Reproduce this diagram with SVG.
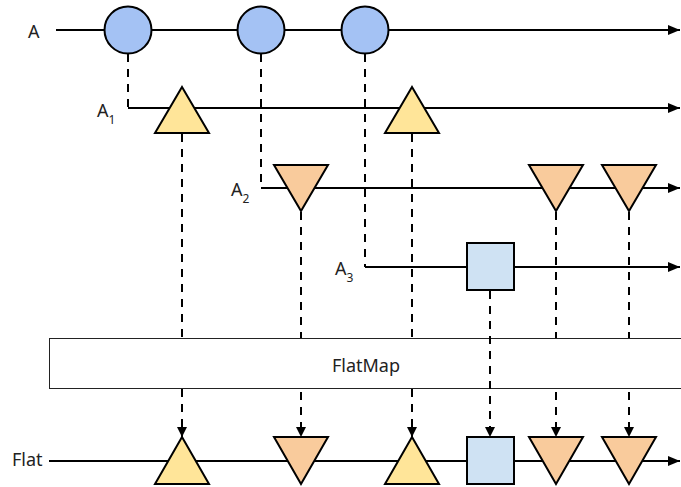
<svg xmlns="http://www.w3.org/2000/svg" width="681" height="487" viewBox="0 0 681 487">
<style>
.ln{fill:none;stroke:#000;stroke-width:2}
.ds{fill:none;stroke:#000;stroke-width:2;stroke-dasharray:8 7}
.sh{stroke:#000;stroke-width:2;stroke-linejoin:miter}
.c{fill:#a4c2f4}
.up{fill:#ffe599}
.dn{fill:#f9cb9c}
.sq{fill:#cfe2f3}
text{font-family:"Noto Sans","Open Sans",sans-serif;font-size:18px;fill:#222}
.sub{font-size:12px}
</style>
<defs>
<marker id="ah" markerUnits="userSpaceOnUse" markerWidth="12" markerHeight="10" refX="12" refY="5" orient="auto">
<path d="M0,0 L12,5 L0,10 z" fill="#000"/>
</marker>
<marker id="dh" markerUnits="userSpaceOnUse" markerWidth="10" markerHeight="10" refX="10" refY="5" orient="auto">
<path d="M0,0 L10,5 L0,10 z" fill="#000"/>
</marker>
</defs>

<g id="connectors">
<!-- timelines -->
<line class="ln" x1="56" y1="30" x2="680" y2="30" marker-end="url(#ah)"/>
<line class="ln" x1="128" y1="108" x2="680" y2="108" marker-end="url(#ah)"/>
<line class="ln" x1="261" y1="188" x2="680" y2="188" marker-end="url(#ah)"/>
<line class="ln" x1="365" y1="267" x2="680" y2="267" marker-end="url(#ah)"/>
<line class="ln" x1="49" y1="461" x2="680" y2="461" marker-end="url(#ah)"/>
<!-- A to sub-streams -->
<line class="ds" x1="128" y1="54" x2="128" y2="108"/>
<line class="ds" x1="261" y1="54" x2="261" y2="188"/>
<line class="ds" x1="365" y1="54" x2="365" y2="267"/>
<!-- to flat -->
<line class="ds" x1="182" y1="134" x2="182" y2="437" marker-end="url(#dh)"/>
<line class="ds" x1="301" y1="212" x2="301" y2="437" marker-end="url(#dh)"/>
<line class="ds" x1="412" y1="134" x2="412" y2="437" marker-end="url(#dh)"/>
<line class="ds" x1="556" y1="212" x2="556" y2="437" marker-end="url(#dh)"/>
<line class="ds" x1="629" y1="212" x2="629" y2="437" marker-end="url(#dh)"/>
</g>

<g id="flatmap">
<rect x="49.5" y="338.5" width="640" height="50" fill="#fff" stroke="#222" stroke-width="1"/>
<text x="366" y="372" text-anchor="middle">FlatMap</text>
</g>

<g id="connector-square">
<line class="ds" x1="490" y1="291" x2="490" y2="437" marker-end="url(#dh)"/>
</g>

<g id="labels">
<text x="28" y="38">A</text>
<text x="97" y="117">A<tspan class="sub" dy="7">1</tspan></text>
<text x="231" y="196">A<tspan class="sub" dy="7">2</tspan></text>
<text x="335" y="275">A<tspan class="sub" dy="7">3</tspan></text>
<text x="12" y="466">Flat</text>
</g>

<g id="a-events">
<circle class="sh c" cx="128" cy="30" r="23.5"/>
<circle class="sh c" cx="261" cy="30" r="23.5"/>
<circle class="sh c" cx="365" cy="30" r="23.5"/>
</g>

<g id="a1-events">
<polygon class="sh up" points="182,87 209,133 155,133"/>
<polygon class="sh up" points="412,87 439,133 385,133"/>
</g>

<g id="a2-events">
<polygon class="sh dn" points="274,165 328,165 301,211"/>
<polygon class="sh dn" points="529,165 583,165 556,211"/>
<polygon class="sh dn" points="602,165 656,165 629,211"/>
</g>

<g id="a3-events">
<rect class="sh sq" x="467" y="243" width="47" height="47"/>
</g>

<g id="flat-events">
<polygon class="sh up" points="182,437 209,484 155,484"/>
<polygon class="sh dn" points="274,437 328,437 301,484"/>
<polygon class="sh up" points="412,437 439,484 385,484"/>
<rect class="sh sq" x="467" y="437" width="47" height="47"/>
<polygon class="sh dn" points="529,437 583,437 556,484"/>
<polygon class="sh dn" points="602,437 656,437 629,484"/>
</g>
</svg>
